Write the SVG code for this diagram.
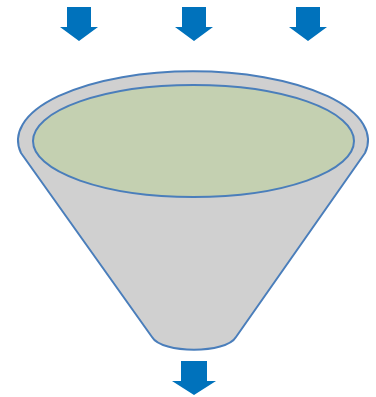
<svg xmlns="http://www.w3.org/2000/svg" width="376" height="397" viewBox="0 0 376 397">
<style>
.arrow{fill:#0072bc;}
.body{fill:#d0d0d0;stroke:#4a7ebb;stroke-width:2;stroke-linejoin:round;}
.rim{fill:#c4d0b1;stroke:#4a7ebb;stroke-width:2;}
</style>
<defs>
<path id="arr" d="M -12,0 L 12,0 L 12,20 L 19,20 L 0,34 L -19,20 L -12,20 Z"/>
</defs>
<g id="funnel">
<path class="body" d="M 21,153 A 175 69 0 1 1 365,153 L 236,337 C 226,354 162,354 152,337 Z"/>
<ellipse class="rim" cx="193.5" cy="141" rx="160.5" ry="56"/>
</g>
<g id="arrow-in-1"><use href="#arr" class="arrow" x="79" y="7"/></g>
<g id="arrow-in-2"><use href="#arr" class="arrow" x="194" y="7"/></g>
<g id="arrow-in-3"><use href="#arr" class="arrow" x="308" y="7"/></g>
<g id="arrow-out"><path class="arrow" d="M 181,361 L 207,361 L 207,381 L 216,381 L 194,395 L 172,381 L 181,381 Z"/></g>
</svg>
